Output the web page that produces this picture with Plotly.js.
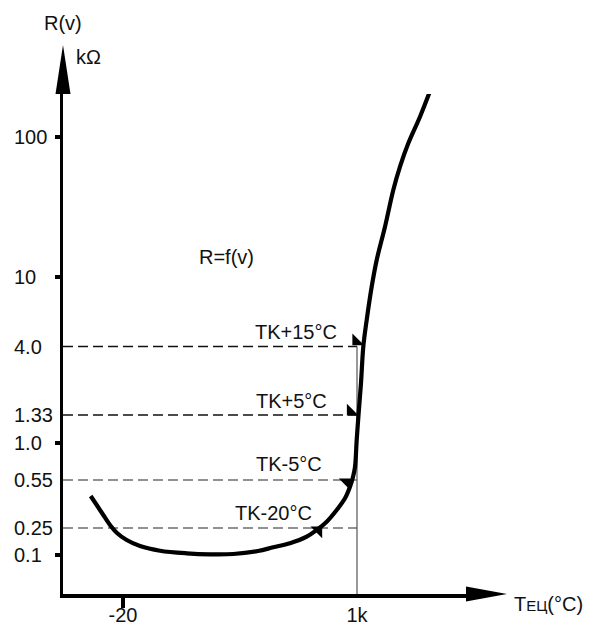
<!DOCTYPE html>
<html>
<head>
<meta charset="utf-8">
<script src="https://cdn.plot.ly/plotly-3.0.1.min.js"></script>
<style>html,body{margin:0;padding:0;background:#fff;}#chart{width:594px;height:628px;}</style>
</head>
<body>
<div id="chart"></div>
<script>
// ---- DATA (schematic units: x = temperature scale position, y = resistance scale position) ----
const xTickVals = [60, 294];
const xTickText = ['-20', '1k'];

const yTickVals = [457, 317, 247.5, 179, 151, 114, 66, 39];
const yTickText = ['100', '10', '4.0', '1.33', '1.0', '0.55', '0.25', '0.1'];
const yDecadeVals = [457, 317, 151, 39];

// R = f(v) curve
const curveX = [27.7, 33.7, 40.3, 47, 53.7, 63.7, 77, 97, 123.7, 147, 170.3, 195, 210.3, 227, 243.7, 253.7, 263.7, 273.7, 282, 287, 290, 292, 293.7, 295.5, 298, 300.3, 303.7, 308.7, 313.7, 322, 330.3, 337, 345.3, 357, 367.7];
const curveY = [98, 89, 79, 69, 61.3, 54, 48, 43.3, 40.7, 39.7, 40, 43, 46.7, 50.7, 57.3, 64, 72.3, 84, 95.7, 107.3, 117, 127, 154, 179, 211, 247.3, 274, 307.3, 334, 367.3, 404, 427.3, 450.7, 477.3, 504.7];

// TK levels
const levelNames = ['TK+15°C', 'TK+5°C', 'TK-5°C', 'TK-20°C'];
const levelY = [247.5, 179, 114, 66];
const levelEndX = 294;
const markerX = [293.3, 287.8, 283.6, 255.3];
const markerY = [252.6, 182.5, 111.6, 63.6];

// ---- STYLE / LAYOUT ----
const FONT = 'Liberation Sans, Arial, Helvetica, sans-serif';
const levelColors = ['#111', '#111', '#6e6e6e', '#6e6e6e'];
const markerSymbols = ['triangle-sw', 'triangle-sw', 'triangle-ne', 'triangle-ne'];
const labelPos = [[190, 262], [191, 193], [191, 130], [170, 81]];
const W = 594, H = 628;

const traces = [];
levelY.forEach((ly, i) => {
  traces.push({type: 'scatter', mode: 'lines', x: [0, levelEndX], y: [ly, ly],
    line: {color: levelColors[i], width: 1.3, dash: '10px,5px'}, hoverinfo: 'skip'});
});
traces.push({type: 'scatter', mode: 'lines', x: [levelEndX, levelEndX], y: [0, levelY[0]],
  line: {color: '#555', width: 1.2}, hoverinfo: 'skip'});
traces.push({type: 'scatter', mode: 'lines', x: curveX, y: curveY,
  line: {color: '#000', width: 4.2, shape: 'spline', smoothing: 1},
  cliponaxis: false, name: 'R=f(v)'});
traces.push({type: 'scatter', mode: 'markers', x: markerX, y: markerY,
  marker: {symbol: markerSymbols, size: 13, color: '#000', line: {width: 0}}, cliponaxis: false, text: levelNames});
traces.push({type: 'scatter', x: [null], y: [null], xaxis: 'x2', yaxis: 'y', hoverinfo: 'skip'});
traces.push({type: 'scatter', x: [null], y: [null], xaxis: 'x', yaxis: 'y2', hoverinfo: 'skip'});

const annotations = levelNames.map((t, i) => ({
  x: labelPos[i][0], y: labelPos[i][1], xref: 'x', yref: 'y', text: t, showarrow: false,
  xanchor: 'left', yanchor: 'middle', font: {size: 20, color: '#111', family: FONT}
}));
annotations.push({x: 134, y: 337.5, xref: 'x', yref: 'y', text: 'R=f(v)', showarrow: false,
  xanchor: 'left', yanchor: 'middle', font: {size: 20, color: '#111', family: FONT}});
annotations.push({x: 42 / W, y: 1 - 23 / H, xref: 'paper', yref: 'paper', text: 'R(v)', showarrow: false,
  xanchor: 'left', yanchor: 'middle', font: {size: 20, color: '#111', family: FONT}});
annotations.push({x: 74 / W, y: 1 - 57 / H, xref: 'paper', yref: 'paper', text: 'kΩ', showarrow: false,
  xanchor: 'left', yanchor: 'middle', font: {size: 20, color: '#111', family: FONT}});
annotations.push({x: 512 / W, y: 1 - 604 / H, xref: 'paper', yref: 'paper',
  text: 'T<span style="font-size:15px">ЕЦ</span>(°C)', showarrow: false,
  xanchor: 'left', yanchor: 'middle', font: {size: 20, color: '#111', family: FONT}});

const shapes = [
  {type: 'path', xref: 'x domain', yref: 'y domain', xsizemode: 'pixel', ysizemode: 'pixel',
   xanchor: 1, yanchor: 0, path: 'M0,7.5 L41,0 L0,-7.5 Z', fillcolor: '#000', line: {width: 0}, layer: 'above'},
  {type: 'path', xref: 'x domain', yref: 'y domain', xsizemode: 'pixel', ysizemode: 'pixel',
   xanchor: 0, yanchor: 1, path: 'M-7.5,0 L0,49 L7.5,0 Z', fillcolor: '#000', line: {width: 0}, layer: 'above'}
];

const layout = {
  width: W, height: H,
  margin: {l: 0, r: 0, t: 0, b: 0, pad: 0},
  paper_bgcolor: '#fff', plot_bgcolor: '#fff',
  showlegend: false,
  font: {family: FONT, size: 20, color: '#111'},
  xaxis: {domain: [63 / W, 466 / W], range: [0, 403], showline: true, linewidth: 3.5, linecolor: '#000',
    tickmode: 'array', tickvals: [xTickVals[0]], ticks: 'outside', ticklen: 10, tickwidth: 3.5, tickcolor: '#000',
    showticklabels: false, showgrid: false, zeroline: false, fixedrange: true},
  xaxis2: {overlaying: 'x', anchor: 'y', side: 'bottom', range: [0, 403], tickmode: 'array',
    tickvals: xTickVals, ticktext: xTickText, ticks: '', showline: false, showgrid: false, zeroline: false,
    ticklabelstandoff: 7, ticklabelshift: -5.5, tickfont: {size: 20, color: '#111', family: FONT}, fixedrange: true},
  yaxis: {domain: [34 / H, 534 / H], range: [0, 500], showline: true, linewidth: 3.5, linecolor: '#000',
    tickmode: 'array', tickvals: yDecadeVals, ticks: 'outside', ticklen: 5, tickwidth: 3.5, tickcolor: '#000',
    showticklabels: false, showgrid: false, zeroline: false, fixedrange: true},
  yaxis2: {overlaying: 'y', anchor: 'free', position: 10 / W, side: 'left', ticklabelposition: 'inside',
    ticklabeloverflow: 'allow', range: [0, 500], tickmode: 'array', tickvals: yTickVals, ticktext: yTickText,
    ticks: '', showline: false, showgrid: false, zeroline: false,
    tickfont: {size: 20, color: '#111', family: FONT}, fixedrange: true},
  annotations: annotations,
  shapes: shapes
};

Plotly.newPlot('chart', traces, layout, {staticPlot: true, displayModeBar: false});
</script>
</body>
</html>
